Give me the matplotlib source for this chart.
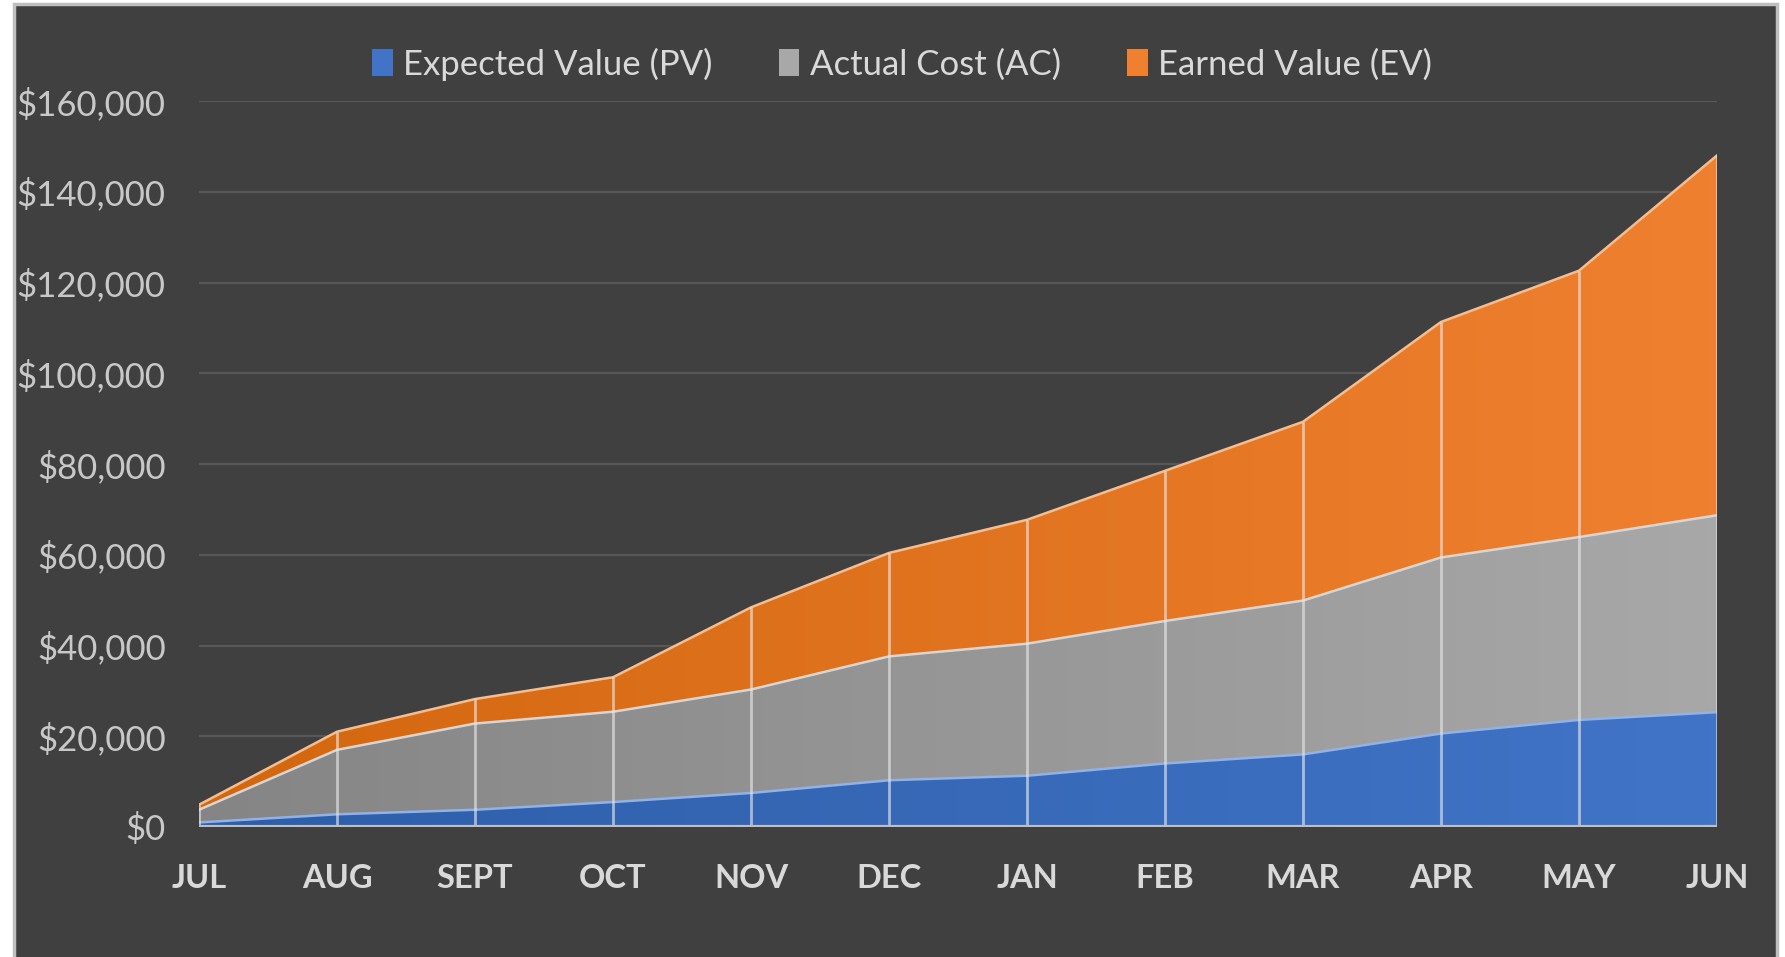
import numpy as np
import matplotlib.pyplot as plt
from matplotlib.colors import LinearSegmentedColormap
from matplotlib.patches import Rectangle, Patch
from matplotlib.ticker import FuncFormatter

plt.rcParams['font.family'] = ['Lato', 'DejaVu Sans']

months = ['JUL', 'AUG', 'SEPT', 'OCT', 'NOV', 'DEC', 'JAN', 'FEB', 'MAR', 'APR', 'MAY', 'JUN']
# stacked series (each layer sits on the one below)
pv = [1000, 2800, 3800, 5500, 7500, 10300, 11300, 14000, 16000, 20600, 23600, 25300]
ac = [2800, 14200, 19000, 19900, 22800, 27300, 29100, 31400, 33900, 38800, 40300, 43400]
ev = [1100, 4000, 5400, 7600, 18100, 22800, 27300, 33100, 39400, 51900, 58700, 79300]
labels = ['Expected Value (PV)', 'Actual Cost (AC)', 'Earned Value (EV)']

# (dark left, light right, outline)
shades = [('#2d5ea9', '#4174c7', '#8fb2ea'),
          ('#858585', '#a8a8a8', '#d6d6d6'),
          ('#d3670f', '#ef8030', '#f9bd8c')]

W, H = 1785, 957
fig = plt.figure(figsize=(W / 100, H / 100), dpi=100)
fig.patch.set_facecolor('white')
fig.patches.append(Rectangle((14 / W, -0.05), 1763 / W, 1.05 - 4 / H,
                             transform=fig.transFigure, facecolor='#404040',
                             edgecolor='#bfbfbf', linewidth=2.5, zorder=-1))

ax = fig.add_axes([199 / W, 130 / H, (1717 - 199) / W, (827 - 101) / H])
ax.set_zorder(1)
ax.set_facecolor('none')

x = np.arange(len(months))
polys = ax.stackplot(x, pv, ac, ev, colors=[s[1] for s in shades], linewidth=0, zorder=2)

# horizontal gradient inside each layer
grad = np.linspace(0, 1, 256).reshape(1, -1)
for poly, (c0, c1, _) in zip(polys, shades):
    cmap = LinearSegmentedColormap.from_list('g', [c0, c1])
    im = ax.imshow(grad, cmap=cmap, aspect='auto', extent=[0, 11, 0, 160000],
                   origin='lower', zorder=2.5, interpolation='bicubic')
    im.set_clip_path(poly.get_paths()[0], ax.transData)

# outlines and drop lines
tops = np.cumsum([pv, ac, ev], axis=0)
for top, (_, _, lc) in zip(tops, shades):
    ax.plot(x, top, color=lc, lw=1.8, zorder=3, solid_joinstyle='round')
ax.vlines(x, 0, tops[-1], colors='#e6e6e6', alpha=0.65, lw=2, zorder=3.5)
ax.axhline(0, color='#bfbfbf', lw=3, zorder=4)

ax.set_xlim(0, 11)
ax.set_ylim(0, 160000)
ax.set_yticks(np.arange(0, 160001, 20000))
ax.yaxis.set_major_formatter(FuncFormatter(lambda v, p: '${:,.0f}'.format(v)))
ax.set_xticks(x)
ax.set_xticklabels(months, fontweight='bold')
ax.yaxis.grid(True, color='#575757', lw=1.6, zorder=1)
ax.set_axisbelow(True)
for s in ax.spines.values():
    s.set_visible(False)
ax.tick_params(axis='y', length=0, pad=24, labelsize=25, labelcolor='#c8c8c8')
ax.tick_params(axis='x', length=0, pad=27, labelsize=23.5, labelcolor='#d9d9d9')

handles = [Patch(facecolor=s[1], edgecolor='none') for s in shades]
fig.legend(handles, labels, loc='center', bbox_to_anchor=(902 / W, 1 - 64 / H), ncol=3,
           frameon=False, fontsize=25, labelcolor='#d9d9d9', handlelength=0.6,
           handleheight=0.8, handletextpad=0.3, columnspacing=1.9)

fig.savefig('out.png', dpi=100)
